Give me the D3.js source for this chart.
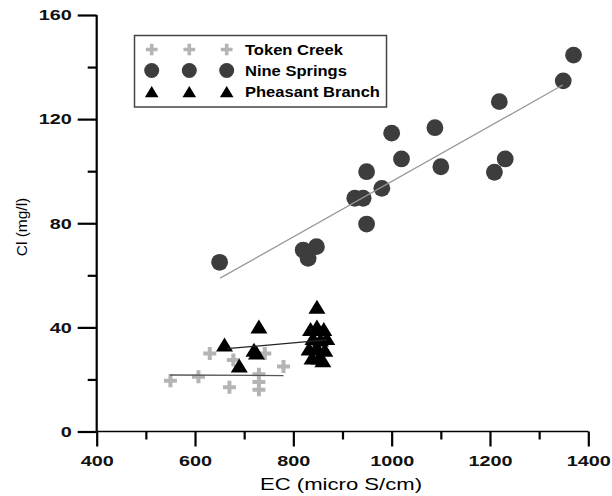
<!DOCTYPE html>
<html lang="en">
<head>
  <meta charset="UTF-8">
  <title>Cl vs EC</title>
  <script src="https://d3js.org/d3.v7.min.js"></script>
  <style>
    body { margin: 0; padding: 0; background: #fff; }
    svg { display: block; font-family: "Liberation Sans", Arial, sans-serif; }
  </style>
</head>
<body>
  <svg id="chart" width="612" height="496"></svg>
  <script>
    // Token Creek (crosses)
    const tokenEC = [550, 607, 630, 670, 678, 730, 730, 730, 742, 780];
    const tokenCl = [19.5, 21, 30, 17, 27.5, 22, 19, 16, 30, 25];
    // Nine Springs (circles)
    const nineEC = [650, 820, 830, 847, 925, 942, 949, 949, 980, 1000, 1020, 1088, 1100, 1209, 1219, 1231, 1349, 1370];
    const nineCl = [65, 69.7, 66.5, 71, 89.6, 89.6, 79.7, 99.8, 93.4, 114.6, 104.7, 116.7, 101.7, 99.6, 126.7, 104.7, 134.7, 144.6];
    // Pheasant Branch (triangles)
    const pheasEC = [660, 690, 720, 725, 730, 848, 835, 848, 862, 840, 855, 868, 832, 848, 864, 838, 852, 860];
    const pheasCl = [33, 25, 31, 30, 40, 47.5, 39, 40, 39, 35.5, 35, 35.5, 31.5, 32, 31, 28, 28, 27];

    // fitted lines (end points)
    const nineFitEC = [651, 1348], nineFitCl = [58.9, 133.1];
    const pheasFitEC = [665, 868], pheasFitCl = [31.8, 35.2];
    const tokenFitEC = [549, 780], tokenFitCl = [21.7, 21.5];

    const xTicks = [400, 600, 800, 1000, 1200, 1400];
    const xMinor = [500, 700, 900, 1100, 1300];
    const yTicks = [0, 40, 80, 120, 160];
    const yMinor = [20, 60, 100, 140];

    const seriesNames = ["Token Creek", "Nine Springs", "Pheasant Branch"];

    const svg = d3.select("#chart");
    const x = d3.scaleLinear().domain([400, 1400]).range([96.7, 588.3]);
    const y = d3.scaleLinear().domain([0, 160]).range([431.5, 15]);

    const crossPath = "M-6.5,-2h13v4h-13zM-2,-6.5h4v13h-4z";
    const triPath = "M0,-8L8.5,6L-8.5,6Z";
    const grey = "#b4b4b4", dark = "#3d3d3d";

    // the source picture is wider than normal type, so stretch texts sideways
    function stretch(sel, k) {
      sel.each(function () {
        const w = this.getComputedTextLength();
        d3.select(this).attr("textLength", w * k).attr("lengthAdjust", "spacingAndGlyphs");
      });
    }

    // axes
    const xAxis = svg.append("g").attr("transform", `translate(0,${y(0)})`)
      .call(d3.axisBottom(x).tickValues(xTicks).tickSize(15).tickPadding(9).tickFormat(d3.format("d")));
    svg.append("g").attr("transform", `translate(0,${y(0)})`)
      .call(d3.axisBottom(x).tickValues(xMinor).tickSize(8).tickFormat(""))
      .select(".domain").remove();
    const yAxis = svg.append("g").attr("transform", `translate(${x(400)},0)`)
      .call(d3.axisLeft(y).tickValues(yTicks).tickSize(19).tickPadding(6));
    svg.append("g").attr("transform", `translate(${x(400)},0)`)
      .call(d3.axisLeft(y).tickValues(yMinor).tickSize(9).tickFormat(""))
      .select(".domain").remove();

    xAxis.select(".domain").attr("d", `M${x(400)},0H${x(1400)}`).attr("stroke-width", 1.5);
    yAxis.select(".domain").attr("d", `M0,${y(160)}V${y(0)}`).attr("stroke-width", 2.2);
    svg.selectAll(".tick line").attr("stroke-width", 2.2);
    svg.selectAll(".tick text").attr("font-size", 15).attr("font-weight", "bold")
      .attr("font-family", "Liberation Sans, Arial, sans-serif").attr("fill", "#111")
      .call(stretch, 1.32);

    // axis titles
    svg.append("text").attr("x", 341).attr("y", 490).attr("text-anchor", "middle")
      .attr("font-size", 17).text("EC (micro S/cm)").call(stretch, 1.3);
    svg.append("text").attr("transform", "translate(27,227) rotate(-90)").attr("text-anchor", "middle")
      .attr("font-size", 15.5).text("Cl (mg/l)");

    // points
    svg.append("g").selectAll("path").data(tokenEC).join("path")
      .attr("d", crossPath).attr("fill", grey)
      .attr("transform", (d, i) => `translate(${x(d)},${y(tokenCl[i])})`);
    svg.append("g").selectAll("circle").data(nineEC).join("circle")
      .attr("cx", d => x(d)).attr("cy", (d, i) => y(nineCl[i])).attr("r", 8.4).attr("fill", dark);
    svg.append("g").selectAll("path").data(pheasEC).join("path")
      .attr("d", triPath).attr("fill", "#000")
      .attr("transform", (d, i) => `translate(${x(d)},${y(pheasCl[i])})`);

    // fit lines
    const line = d3.line().x(d => x(d[0])).y(d => y(d[1]));
    svg.append("path").attr("d", line(d3.zip(nineFitEC, nineFitCl)))
      .attr("stroke", "#999").attr("stroke-width", 1.3).attr("fill", "none");
    svg.append("path").attr("d", line(d3.zip(pheasFitEC, pheasFitCl)))
      .attr("stroke", "#222").attr("stroke-width", 1.3).attr("fill", "none");
    svg.append("path").attr("d", line(d3.zip(tokenFitEC, tokenFitCl)))
      .attr("stroke", "#555").attr("stroke-width", 1.3).attr("fill", "none");

    // legend
    const lg = svg.append("g");
    lg.append("rect").attr("x", 134.5).attr("y", 35.5).attr("width", 252).attr("height", 71.5)
      .attr("fill", "#fff").attr("stroke", "#444").attr("stroke-width", 1.5);
    const rowsY = [49.5, 70.5, 91.5];
    const symX = [151.7, 189.3, 226.7];
    seriesNames.forEach((name, r) => {
      symX.forEach(sx => {
        if (r === 0) lg.append("path").attr("d", crossPath).attr("fill", grey)
          .attr("transform", `translate(${sx},${rowsY[r]}) scale(0.9)`);
        if (r === 1) lg.append("circle").attr("cx", sx).attr("cy", rowsY[r]).attr("r", 7.5).attr("fill", dark);
        if (r === 2) lg.append("path").attr("d", triPath).attr("fill", "#000")
          .attr("transform", `translate(${sx},${rowsY[r] + 1}) scale(0.8)`);
      });
      lg.append("text").attr("x", 245).attr("y", rowsY[r] + 5)
        .attr("font-size", 14).attr("font-weight", "bold").text(name).call(stretch, 1.18);
    });
  </script>
</body>
</html>
